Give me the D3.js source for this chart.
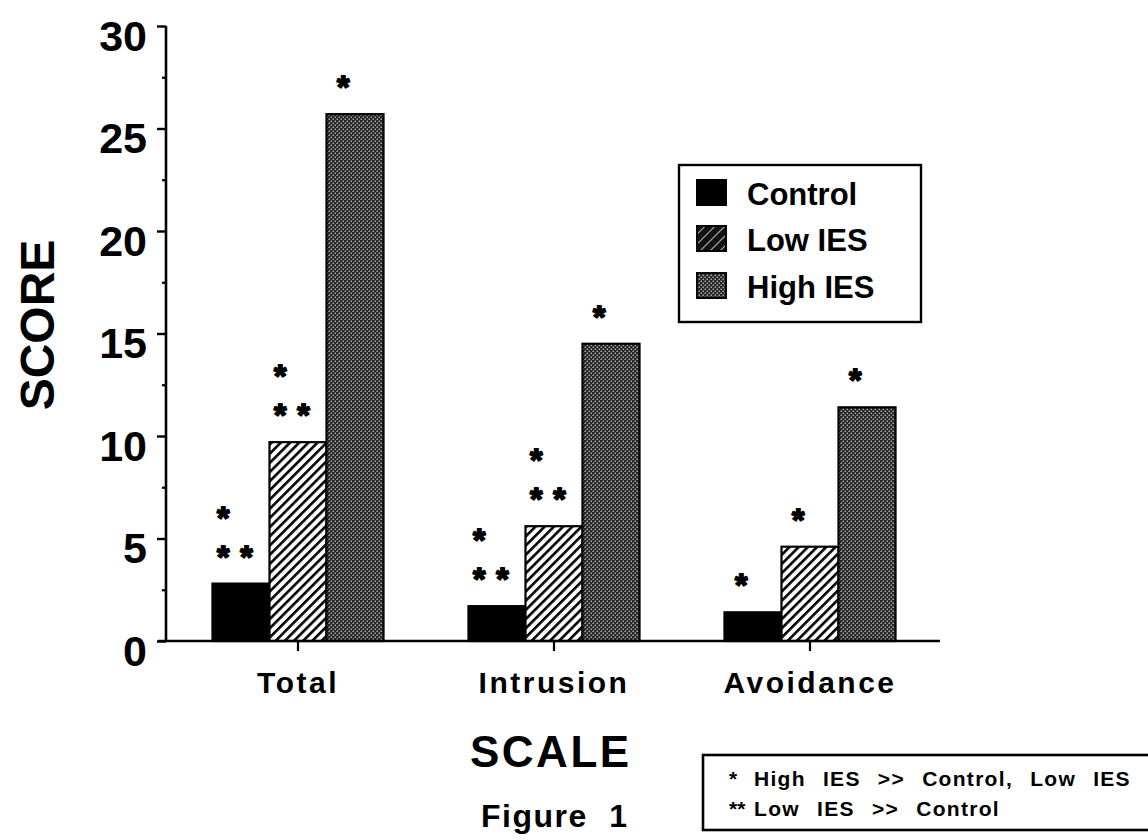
<!DOCTYPE html>
<html>
<head>
<meta charset="utf-8">
<script src="https://cdn.jsdelivr.net/npm/d3@7"></script>
<style>
  html, body { margin: 0; padding: 0; background: #fff; }
  svg { display: block; }
  text { font-family: "Liberation Sans", Arial, Helvetica, sans-serif; font-weight: bold; fill: #000; }
</style>
</head>
<body>
<script>
// ---- data ----
const categories = ["Total", "Intrusion", "Avoidance"];
const series = ["Control", "Low IES", "High IES"];
const controlValues = [2.8, 1.7, 1.4];
const lowIesValues  = [9.7, 5.6, 4.6];
const highIesValues = [25.7, 14.5, 11.4];
// significance marks above each bar (rows from top to bottom)
const controlMarks = [["*", "**"], ["*", "**"], ["*"]];
const lowIesMarks  = [["*", "**"], ["*", "**"], ["*"]];
const highIesMarks = [["*"], ["*"], ["*"]];
const yTicks = [0, 5, 10, 15, 20, 25, 30];
const yMinorTicks = [2.5, 7.5, 12.5, 17.5, 22.5, 27.5];
const footnoteMarks = ["*", "**"];
const footnoteTexts = ["High IES >> Control, Low IES", "Low IES >> Control"];

const valuesBySeries = [controlValues, lowIesValues, highIesValues];
const marksBySeries = [controlMarks, lowIesMarks, highIesMarks];

const W = 1148, H = 840;
const svg = d3.select("body").append("svg").attr("width", W).attr("height", H);
const defs = svg.append("defs");

// hatch pattern (Low IES)
const hatch = defs.append("pattern").attr("id", "hatch")
  .attr("patternUnits", "userSpaceOnUse").attr("width", 6.5).attr("height", 6.5)
  .attr("patternTransform", "rotate(45)");
hatch.append("rect").attr("width", 6.5).attr("height", 6.5).attr("fill", "#fff");
hatch.append("line").attr("x1", 0).attr("y1", 0).attr("x2", 0).attr("y2", 6.5)
  .attr("stroke", "#000").attr("stroke-width", 5.2);
// legend hatch: mostly black with thin white lines
const hatchL = defs.append("pattern").attr("id", "hatchL")
  .attr("patternUnits", "userSpaceOnUse").attr("width", 7).attr("height", 7)
  .attr("patternTransform", "rotate(45)");
hatchL.append("rect").attr("width", 7).attr("height", 7).attr("fill", "#111");
hatchL.append("line").attr("x1", 0).attr("y1", 0).attr("x2", 0).attr("y2", 7)
  .attr("stroke", "#ddd").attr("stroke-width", 1.6);

// dotted pattern (High IES)
const dots = defs.append("pattern").attr("id", "dots")
  .attr("patternUnits", "userSpaceOnUse").attr("width", 4).attr("height", 4);
dots.append("rect").attr("width", 4).attr("height", 4).attr("fill", "#262626");
dots.append("rect").attr("x", 0.6).attr("y", 0.6).attr("width", 1.3).attr("height", 1.3).attr("fill", "#d0d0d0");
dots.append("rect").attr("x", 2.6).attr("y", 2.6).attr("width", 1.3).attr("height", 1.3).attr("fill", "#d0d0d0");

const fills = ["#000", "url(#hatch)", "url(#dots)"];
const legendFills = ["#000", "url(#hatchL)", "url(#dots)"];

// ---- scales ----
const y = d3.scaleLinear().domain([0, 30]).range([641, 26]);
const x0 = d3.scaleBand().domain(categories).range([170, 938]).padding(0);
const x1 = d3.scaleBand().domain(series).range([0, x0.bandwidth()]).paddingInner(0).paddingOuter(0.745);

// ---- bars ----
const groups = svg.append("g").selectAll("g").data(categories).join("g")
  .attr("transform", d => `translate(${x0(d)},0)`);

groups.each(function(cat, ci) {
  const g = d3.select(this);
  series.forEach((s, si) => {
    const v = valuesBySeries[si][ci];
    g.append("rect")
      .attr("x", x1(s)).attr("width", x1.bandwidth())
      .attr("y", y(v)).attr("height", y(0) - y(v))
      .attr("fill", fills[si]).attr("stroke", "#000").attr("stroke-width", 2.2);
    const rows = marksBySeries[si][ci];
    const cx = x1(s) + x1.bandwidth() / 2;
    const n = rows.length;
    const off = n > 1 ? -24 : -18;
    rows.forEach((r, ri) => {
      const starCenterY = y(v) - 34 - (n - 1 - ri) * 39;
      g.append("text")
        .attr("x", cx + off)
        .attr("y", starCenterY + 18)
        .attr("font-size", 32)
        .attr("stroke", "#000").attr("stroke-width", 1.8).attr("stroke-linejoin", "round")
        .attr("text-anchor", "start")
        .attr("word-spacing", 2)
        .text(r === "**" ? "* *" : r);
    });
  });
});

// ---- axes ----
const yAxis = d3.axisLeft(y).tickValues(yTicks).tickSize(9).tickPadding(0).tickFormat(d3.format("d"));
const yg = svg.append("g").attr("transform", "translate(166,0)").call(yAxis);
yg.select(".domain").attr("stroke", "#000").attr("stroke-width", 2.6).attr("d", `M0,${y(30)}V${y(0)}`);
yg.selectAll(".tick line").attr("stroke", "#000").attr("stroke-width", 2.4);
yg.selectAll(".tick text")
  .attr("x", -19).attr("dy", null).attr("y", 24)
  .attr("font-size", 43)
  .attr("font-family", "'Liberation Sans', Arial, sans-serif")
  .attr("font-weight", "bold")
  .attr("fill", "#000");

const yMinor = d3.axisLeft(y).tickValues(yMinorTicks).tickSize(4).tickFormat("");
const ym = svg.append("g").attr("transform", "translate(166,0)").call(yMinor);
ym.select(".domain").remove();
ym.selectAll(".tick line").attr("stroke", "#000").attr("stroke-width", 2.2);

const xAxis = d3.axisBottom(x0).tickSize(10).tickPadding(20);
const xg = svg.append("g").attr("transform", `translate(0,${y(0)})`).call(xAxis);
xg.select(".domain").attr("stroke", "#000").attr("stroke-width", 2.6).attr("d", `M158,0H940`);
xg.selectAll(".tick line").attr("stroke", "#000").attr("stroke-width", 2.2);
xg.selectAll(".tick text")
  .attr("y", 52).attr("dy", null)
  .attr("font-size", 30)
  .attr("letter-spacing", 2.5)
  .attr("font-family", "'Liberation Sans', Arial, sans-serif")
  .attr("font-weight", "bold")
  .attr("fill", "#000");

// y-axis title
svg.append("text")
  .attr("transform", "translate(54,325) rotate(-90)")
  .attr("text-anchor", "middle")
  .attr("font-size", 48)
  .text("SCORE");

// x-axis title
svg.append("text")
  .attr("x", 470).attr("y", 767)
  .attr("font-size", 44).attr("letter-spacing", 2.5)
  .text("SCALE");

svg.append("text")
  .attr("x", 481).attr("y", 827)
  .attr("font-size", 32).attr("letter-spacing", 1.5).attr("word-spacing", 11)
  .text("Figure 1");

// ---- legend ----
const lg = svg.append("g");
lg.append("rect").attr("x", 679).attr("y", 165).attr("width", 242).attr("height", 157)
  .attr("fill", "#fff").attr("stroke", "#000").attr("stroke-width", 2.4);
const legendRowY = [180, 226, 273];
series.forEach((s, i) => {
  lg.append("rect").attr("x", 697).attr("y", legendRowY[i]).attr("width", 29).attr("height", 25)
    .attr("fill", legendFills[i]).attr("stroke", "#000").attr("stroke-width", 2);
  lg.append("text").attr("x", 747).attr("y", legendRowY[i] + 25)
    .attr("font-size", 31).text(s);
});

// ---- footnote box ----
const fg = svg.append("g");
fg.append("rect").attr("x", 703).attr("y", 755).attr("width", 470).attr("height", 75)
  .attr("fill", "#fff").attr("stroke", "#000").attr("stroke-width", 2.6);
footnoteTexts.forEach((t, i) => {
  fg.append("text").attr("x", 729).attr("y", 786 + i * 30)
    .attr("font-size", 21).text(footnoteMarks[i]);
  fg.append("text").attr("x", 754).attr("y", 786 + i * 30)
    .attr("font-size", 21).attr("letter-spacing", 1.3).attr("word-spacing", 10)
    .text(t);
});
</script>
</body>
</html>
